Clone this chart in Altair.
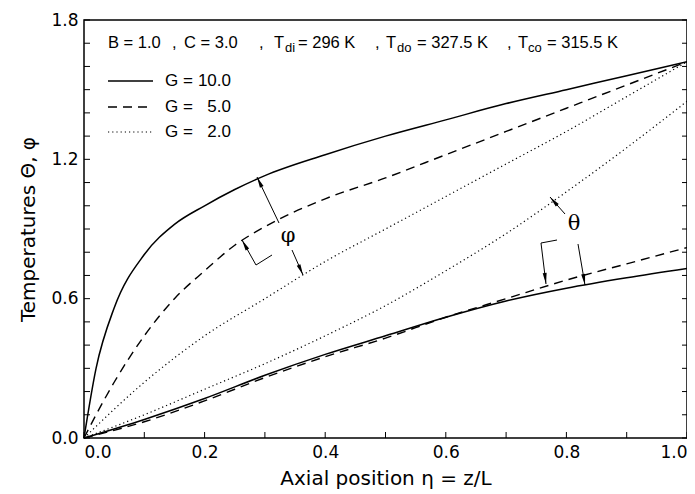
import altair as alt
import pandas as pd
import math

W, H = 603, 418
XMAX, YMAX = 1.0, 1.8
LEFT, TOP = 84, 20  # page px of plot origin

# ---- data ----
x_dense = [0, 0.02, 0.05, 0.1, 0.15, 0.2, 0.25, 0.3, 0.4, 0.5, 0.6, 0.7, 0.8, 0.9, 1.0]
phi_G10 = [0, 0.30, 0.56, 0.79, 0.92, 1.00, 1.07, 1.13, 1.22, 1.30, 1.37, 1.44, 1.50, 1.56, 1.62]
phi_G5 = [0, 0.10, 0.24, 0.44, 0.60, 0.72, 0.83, 0.91, 1.03, 1.12, 1.22, 1.32, 1.42, 1.52, 1.62]

x_coarse = [0, 0.1, 0.2, 0.3, 0.4, 0.5, 0.6, 0.7, 0.8, 0.9, 1.0]
phi_G2 = [0, 0.24, 0.44, 0.60, 0.76, 0.90, 1.04, 1.18, 1.32, 1.47, 1.62]
theta_G2 = [0, 0.10, 0.21, 0.32, 0.44, 0.57, 0.72, 0.88, 1.06, 1.25, 1.45]
theta_G5 = [0, 0.07, 0.16, 0.26, 0.35, 0.43, 0.52, 0.60, 0.68, 0.75, 0.82]
theta_G10 = [0, 0.08, 0.17, 0.27, 0.36, 0.44, 0.52, 0.59, 0.645, 0.69, 0.73]

x_ticks = [0.0, 0.2, 0.4, 0.6, 0.8, 1.0]
y_ticks = [0.0, 0.6, 1.2, 1.8]

legend_labels = ["10.0", "5.0", "2.0"]

FONT = "DejaVu Sans, sans-serif"
HFONT = "Liberation Sans, Arial, sans-serif"


def px2x(px):
    return (px - LEFT) / W * XMAX


def py2y(py):
    return (TOP + H - py) / H * YMAX


def series(name, xs, ys):
    return pd.DataFrame({"x": xs, "y": ys, "s": name})


solid_df = pd.concat([series("phi10", x_dense, phi_G10), series("theta10", x_coarse, theta_G10)])
dash_df = pd.concat([series("phi5", x_dense, phi_G5), series("theta5", x_coarse, theta_G5)])
dot_df = pd.concat([series("phi2", x_coarse, phi_G2), series("theta2", x_coarse, theta_G2)])

xscale = alt.Scale(domain=[0, XMAX], nice=False, zero=False)
yscale = alt.Scale(domain=[0, YMAX], nice=False, zero=False)
X = alt.X("x:Q", scale=xscale,
          axis=alt.Axis(values=x_ticks, format=".1f", ticks=False, domain=False, grid=False,
                        labelFont=FONT, labelFontSize=17, labelPadding=6, labelColor="black",
                        title="Axial position η = z/L", titleFont=FONT, titleFontSize=20,
                        titleFontWeight="normal", titlePadding=8, titleColor="black"))
Y = alt.Y("y:Q", scale=yscale,
          axis=alt.Axis(values=y_ticks, format=".1f", ticks=False, domain=False, grid=False,
                        labelFont=FONT, labelFontSize=17, labelPadding=6, labelColor="black",
                        title="Temperatures Θ, φ", titleFont=FONT, titleFontSize=20,
                        titleFontWeight="normal", titlePadding=12, titleColor="black"))

solid = alt.Chart(solid_df).mark_line(color="black", strokeWidth=1.5, interpolate="monotone").encode(
    x=X, y=Y, detail="s:N")
dashed = alt.Chart(dash_df).mark_line(color="black", strokeWidth=1.4, strokeDash=[9, 6],
                                      interpolate="monotone").encode(x=X, y=Y, detail="s:N")
dotted = alt.Chart(dot_df).mark_line(color="black", strokeWidth=1.2, strokeDash=[1.2, 3],
                                     interpolate="monotone").encode(x=X, y=Y, detail="s:N")

# ---- inward ticks ----
ymin = pd.DataFrame({"y": [round(0.1 * i, 1) for i in range(19)]})
xmin = pd.DataFrame({"x": [round(0.1 * i, 1) for i in range(11)]})
ytick_l = alt.Chart(ymin).mark_rule(color="black", strokeWidth=1).encode(
    y=Y, x=alt.value(0), x2=alt.value(6))
ytick_r = alt.Chart(ymin).mark_rule(color="black", strokeWidth=1).encode(
    y=Y, x=alt.value(W - 5), x2=alt.value(W))
xtick_b = alt.Chart(xmin).mark_rule(color="black", strokeWidth=1).encode(
    x=X, y=alt.value(H), y2=alt.value(H - 6))

# ---- annotation arrows (page px) ----
arrows = [
    (279, 223, 257, 177, True),
    (272, 255, 256, 265, False),
    (256, 265, 242, 240, True),
    (292, 250, 303, 275, True),
    (565, 214, 550, 197, True),
    (557, 240, 541, 243, False),
    (541, 243, 546, 284, True),
    (578, 244, 585, 285, True),
]
arr_df = pd.DataFrame([{
    "x": px2x(a[0]), "y": py2y(a[1]), "x2": px2x(a[2]), "y2": py2y(a[3])} for a in arrows])
head_df = pd.DataFrame([{
    "x": px2x(a[2]), "y": py2y(a[3]),
    "ang": math.degrees(math.atan2(a[2] - a[0], -(a[3] - a[1]))) % 360}
    for a in arrows if a[4]])
shafts = alt.Chart(arr_df).mark_rule(color="black", strokeWidth=1).encode(
    x=X, y=Y, x2="x2:Q", y2="y2:Q")
heads = alt.Chart(head_df).mark_point(shape="M0,0L0.4,2.2L-0.4,2.2Z", filled=True, size=100,
                                      color="black", opacity=1, strokeWidth=0).encode(
    x=X, y=Y, angle=alt.Angle("ang:Q", scale=None))

greek_df = pd.DataFrame({"x": [px2x(288), px2x(574)], "y": [py2y(236), py2y(224)], "t": ["φ", "θ"]})
greek = alt.Chart(greek_df).mark_text(font="DejaVu Serif, Liberation Serif, serif", fontSize=21,
                                      color="black", align="center", baseline="middle").encode(
    x=X, y=Y, text="t:N")

# ---- legend ----
leg_y = [81, 107, 132]
leg_lines = []
for i, yy in enumerate(leg_y):
    leg_lines.append(pd.DataFrame({"x": [px2x(108), px2x(153)], "y": [py2y(yy)] * 2, "s": str(i)}))
leg1 = alt.Chart(leg_lines[0]).mark_line(color="black", strokeWidth=1.5).encode(x=X, y=Y)
leg2 = alt.Chart(leg_lines[1]).mark_line(color="black", strokeWidth=1.4, strokeDash=[9, 6]).encode(x=X, y=Y)
leg3 = alt.Chart(leg_lines[2]).mark_line(color="black", strokeWidth=1.2, strokeDash=[1.2, 3]).encode(x=X, y=Y)
legG = alt.Chart(pd.DataFrame({"x": [px2x(165)] * 3, "y": [py2y(v) for v in leg_y], "t": ["G ="] * 3})
                 ).mark_text(font=HFONT, fontSize=17, align="left", baseline="middle", color="black").encode(
    x=X, y=Y, text="t:N")
legV = alt.Chart(pd.DataFrame({"x": [px2x(231)] * 3, "y": [py2y(v) for v in leg_y], "t": legend_labels})
                 ).mark_text(font=HFONT, fontSize=17, align="right", baseline="middle", color="black").encode(
    x=X, y=Y, text="t:N")

# ---- header with subscripts ----
main_pieces = [("B = 1.0", 108), (",", 172), ("C = 3.0", 184), (",", 259), ("T", 274),
               ("= 296 K", 298), (",", 375), ("T", 386), ("= 327.5 K", 417), (",", 507),
               ("T", 518), ("= 315.5 K", 547)]
sub_pieces = [("di", 285), ("do", 397), ("co", 528)]
hdr_main = alt.Chart(pd.DataFrame({"x": [px2x(p[1]) for p in main_pieces],
                                   "y": [py2y(48)] * len(main_pieces),
                                   "t": [p[0] for p in main_pieces]})).mark_text(
    font=HFONT, fontSize=16.5, align="left", baseline="alphabetic", color="black").encode(
    x=X, y=Y, text="t:N")
hdr_sub = alt.Chart(pd.DataFrame({"x": [px2x(p[1]) for p in sub_pieces],
                                  "y": [py2y(52)] * len(sub_pieces),
                                  "t": [p[0] for p in sub_pieces]})).mark_text(
    font=HFONT, fontSize=13, align="left", baseline="alphabetic", color="black").encode(
    x=X, y=Y, text="t:N")

chart = alt.layer(
    solid, dashed, dotted, ytick_l, ytick_r, xtick_b, shafts, heads, greek,
    leg1, leg2, leg3, legG, legV, hdr_main, hdr_sub
).properties(
    width=W, height=H,
    autosize=alt.AutoSizeParams(type="none"),
    padding={"left": LEFT - 8, "top": TOP - 8, "right": 0, "bottom": 56},
).configure_view(stroke="black", strokeWidth=1.5)

chart.save("out.html", embed_options={"renderer": "svg", "actions": False})
